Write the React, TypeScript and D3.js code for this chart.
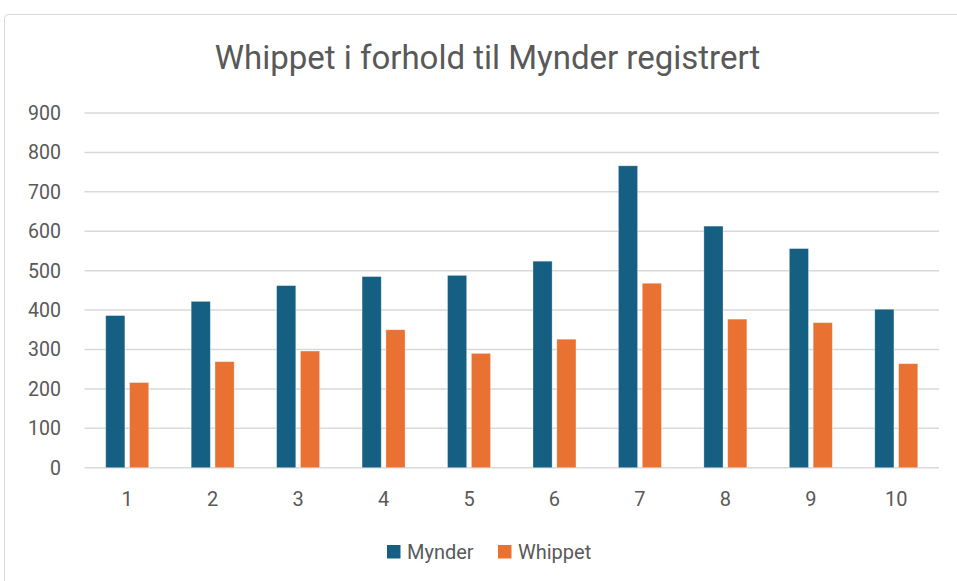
import React from "react";
import * as d3 from "d3";

const categories = ["1", "2", "3", "4", "5", "6", "7", "8", "9", "10"];
const mynder = [386, 422, 462, 485, 488, 524, 766, 613, 556, 402];
const whippet = [216, 269, 296, 350, 290, 326, 468, 377, 368, 264];
const yTicks = [0, 100, 200, 300, 400, 500, 600, 700, 800, 900];
const seriesNames = ["Mynder", "Whippet"];
const colors = ["#156082", "#E97132"];

const W = 957;
const H = 581;
const FONT = "'Roboto', 'Liberation Sans', sans-serif";

export default function App() {
  const left = 84.5;
  const right = 939;
  const top = 113;
  const bottom = 467.7;
  const x = d3.scaleBand<string>().domain(categories).range([left, right]).padding(0);
  const y = d3.scaleLinear().domain([0, 900]).range([bottom, top]);
  const bw = x.bandwidth();
  const barW = bw * 0.224;
  const gap = bw * 0.055;
  const groupW = barW * 2 + gap;
  const series = [mynder, whippet];

  return (
    <div style={{ position: "absolute", left: 0, top: 0 }}>
      <svg width={W} height={H} style={{ display: "block" }}>
        <rect x={0} y={0} width={W} height={H} fill="#ffffff" />
        <rect x={4.5} y={14.5} width={W + 10} height={H + 10} rx={4} fill="#ffffff" stroke="#d9d9d9" strokeWidth={1} />
        <text x={487.5} y={69} textAnchor="middle" fontFamily={FONT} fontSize={33} fill="#595959">
          Whippet i forhold til Mynder registrert
        </text>
        {yTicks.map((t) => (
          <g key={t}>
            <line x1={left} x2={right} y1={y(t)} y2={y(t)} stroke="#d9d9d9" strokeWidth={1.5} />
            <text x={61} y={y(t) + 7} textAnchor="end" fontFamily={FONT} fontSize={19.5} fill="#595959">
              {t}
            </text>
          </g>
        ))}
        {series.map((vals, si) =>
          vals.map((v, i) => {
            const x0 = (x(categories[i]) as number) + (bw - groupW) / 2 + si * (barW + gap);
            return (
              <rect
                key={`${si}-${i}`}
                x={x0}
                y={y(v)}
                width={barW}
                height={y(0) - y(v)}
                fill={colors[si]}
                stroke="#ffffff"
                strokeOpacity={0.4}
                strokeWidth={0.75}
              />
            );
          })
        )}
        {categories.map((c) => (
          <text key={c} x={(x(c) as number) + bw / 2} y={506} textAnchor="middle" fontFamily={FONT} fontSize={20} fill="#595959">
            {c}
          </text>
        ))}
        {seriesNames.map((n, i) => {
          const lx = i === 0 ? 387 : 498;
          return (
            <g key={n}>
              <rect x={lx} y={545} width={13.5} height={13.5} fill={colors[i]} />
              <text x={lx + 20} y={559} fontFamily={FONT} fontSize={20} fill="#595959">
                {n}
              </text>
            </g>
          );
        })}
      </svg>
    </div>
  );
}
